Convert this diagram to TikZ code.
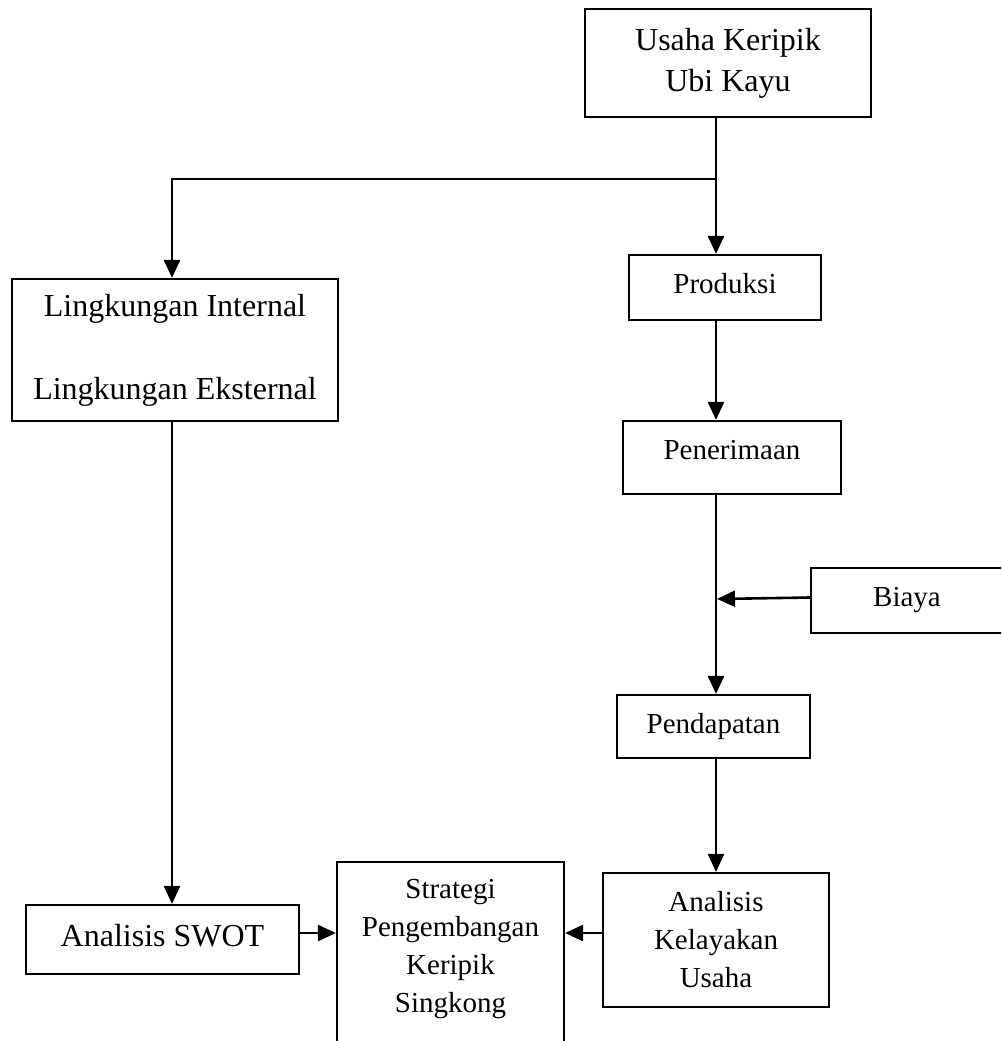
\documentclass[tikz,border=0pt]{standalone}
\usepackage{fontspec}
\setmainfont{Liberation Serif}
\usetikzlibrary{arrows.meta}
\begin{document}
\begin{tikzpicture}[x=1pt,y=-1pt,
  box/.style={draw, line width=2.2pt, inner sep=0pt, align=center},
  big/.style={font=\fontsize{32}{41}\selectfont},
  small/.style={font=\fontsize{29}{38}\selectfont},
  arr/.style={line width=2.6pt, -{Triangle[length=18pt,width=16pt]}}]
\useasboundingbox (0,0) rectangle (1001,1041);
\clip (0,0) rectangle (1001,1041);
\fill[white] (0,0) rectangle (1001,1041);

\node[box,big,minimum width=286pt,minimum height=108pt] (usaha) at (728,63) {Usaha Keripik\\Ubi Kayu};
\node[box,small,minimum width=192pt,minimum height=65pt,text depth=9pt] (prod) at (725,287.5) {Produksi};
\node[box,big,minimum width=326pt,minimum height=142pt] (lingk) at (175,350) {Lingkungan Internal\\[42pt]Lingkungan Eksternal};
\node[box,small,minimum width=218pt,minimum height=73pt,text depth=16pt] (pen) at (732,457.5) {Penerimaan};
\node[box,small,minimum width=192pt,minimum height=65pt] (biaya) at (907,600.5) {Biaya};
\node[box,small,minimum width=193pt,minimum height=63pt] (pend) at (713.5,726.5) {Pendapatan};
\node[box,small,minimum width=226pt,minimum height=134pt] (kel) at (716,940) {Analisis\\Kelayakan\\Usaha};
\node[box,big,minimum width=273pt,minimum height=69pt,text depth=9pt] (swot) at (162.5,939.5) {Analisis SWOT};
\node[box,minimum width=227pt,minimum height=220pt,anchor=north] (strat) at (450.5,861) {};
\node[small,align=center,anchor=north,inner sep=0pt] (strattxt) at (450.5,879) {Strategi\\Pengembangan\\Keripik\\Singkong};

\coordinate (j) at (716,179);
\coordinate (c) at (172,179);
\coordinate (bj) at (717,599);

\draw[arr] (usaha.south -| j) -- (prod.north -| j);
\draw[arr] (j) -- (c) -- (c |- lingk.north);
\draw[arr] (prod.south -| j) -- (pen.north -| j);
\draw[arr] (pen.south -| j) -- (pend.north -| j);
\draw[arr] ([yshift=3pt]biaya.west) -- (bj);
\draw[arr] (c |- lingk.south) -- (c |- swot.north);
\draw[arr] (pend.south -| j) -- (kel.north -| j);
\draw[arr] ([yshift=6.5pt]swot.east) -- ([yshift=6.5pt]swot.east -| strat.west);
\draw[arr] ([yshift=7pt]kel.west) -- ([yshift=7pt]kel.west -| strat.east);
\end{tikzpicture}
\end{document}
